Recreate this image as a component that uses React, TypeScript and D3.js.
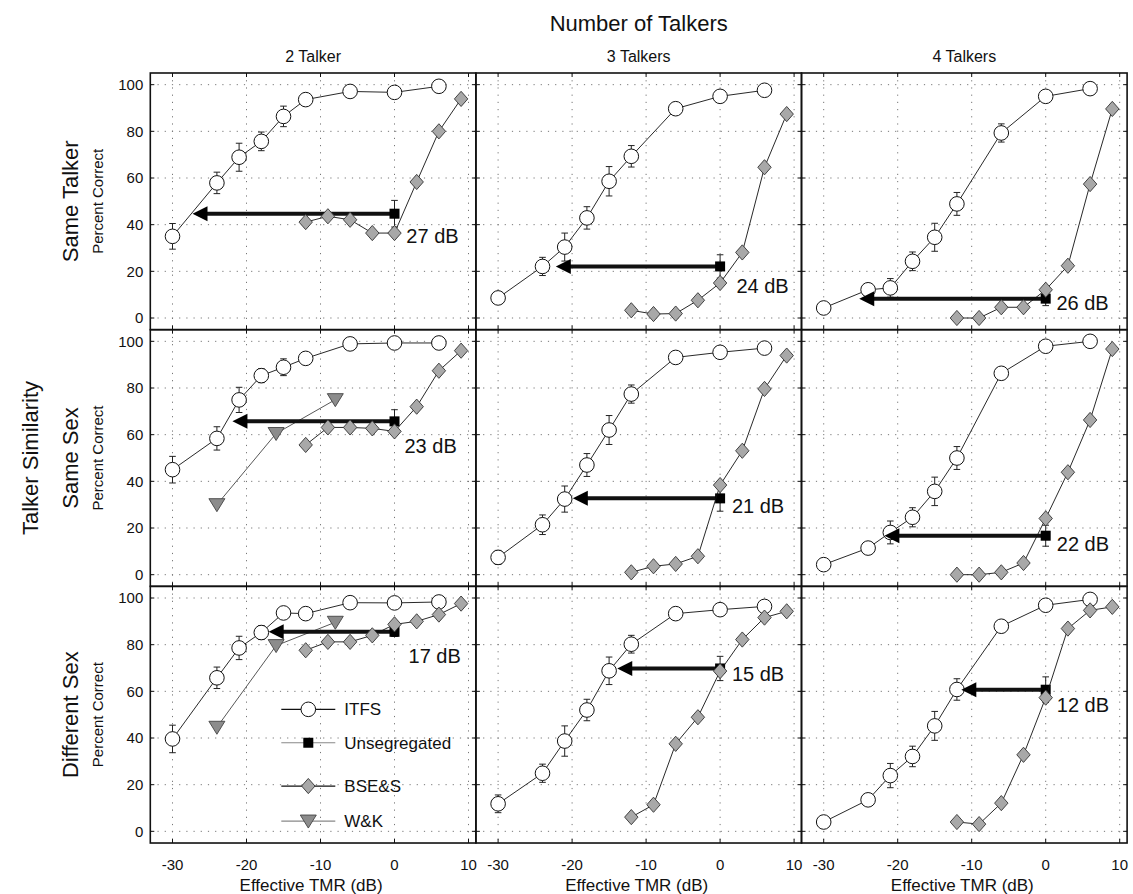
import React from "react";
import * as d3 from "d3";

// ---------- data ----------
const rowLabels = ["Same Talker", "Same Sex", "Different Sex"];
const colLabels = ["2 Talker", "3 Talkers", "4 Talkers"];
const xTicks = [-30, -20, -10, 0, 10];
const yTicks = [0, 20, 40, 60, 80, 100];

const tmrITFS = [-30, -24, -21, -18, -15, -12, -6, 0, 6];
const tmrBSES = [-12, -9, -6, -3, 0, 3, 6, 9];
const tmrWK = [-24, -16, -8];

// panels ordered row by row: [SameTalker 2,3,4], [SameSex 2,3,4], [DiffSex 2,3,4]
const itfsValues = [
  [35, 57.9, 68.9, 75.7, 86.4, 93.6, 97.1, 96.7, 99.3],
  [8.6, 22.1, 30.4, 42.9, 58.6, 69.3, 89.7, 95, 97.6],
  [4.3, 12.1, 12.9, 24.3, 34.6, 48.9, 79.3, 95, 98.3],
  [45, 58.4, 74.9, 85.3, 88.9, 92.7, 98.9, 99.3, 99.3],
  [7.4, 21.4, 32.4, 47, 62, 77.4, 93.1, 95.3, 97.1],
  [4.3, 11.4, 18.1, 24.6, 35.7, 50, 86.3, 97.9, 100],
  [39.6, 65.8, 78.6, 85.2, 93.6, 93.3, 98, 97.9, 98.3],
  [11.8, 24.9, 38.7, 52, 68.8, 80.2, 93.3, 95, 96.4],
  [4, 13.5, 23.9, 32.1, 45.2, 60.8, 87.9, 96.9, 99.4],
];
const itfsErrors = [
  [5.5, 4.6, 6, 4, 4.4, 0, 0, 0, 0],
  [0, 3.9, 6, 4.8, 6.3, 4.6, 0, 0, 0],
  [0, 0, 4, 4, 6, 4.9, 3.9, 0, 0],
  [5.7, 5, 5.4, 3, 3.6, 0, 0, 0, 0],
  [3, 4.2, 5.6, 4.9, 6.2, 3.9, 0, 0, 0],
  [0, 0, 4.9, 4.1, 6.1, 4.9, 0, 0, 0],
  [5.9, 4.6, 5, 3, 0, 0, 0, 0, 0],
  [3.8, 3.9, 6.5, 4.6, 5.9, 3.8, 0, 0, 0],
  [0, 2, 5.2, 4.4, 6.2, 4.6, 0, 0, 0],
];
const bsesValues = [
  [41.1, 43.6, 42.1, 36.4, 36.4, 58.3, 80, 93.9],
  [3.3, 1.7, 1.9, 7.6, 15, 28.1, 64.6, 87.4],
  [0, 0, 4.6, 4.6, 12.1, 22.4, 57.4, 89.6],
  [55.6, 63.1, 63.1, 62.7, 61.4, 72, 87.4, 96],
  [1, 3.6, 4.6, 7.9, 38.4, 53.1, 79.6, 93.9],
  [0, 0, 1, 5, 24.1, 43.9, 66.3, 96.7],
  [77.6, 81.2, 81.2, 84, 88.7, 90, 92.9, 97.6],
  [6.1, 11.4, 37.5, 48.9, 68.7, 82.2, 91.6, 94.3],
  [4, 3.1, 12.1, 32.8, 57.3, 86.9, 94.7, 96.2],
];
// W&K only in the 2-talker column (Same Sex, Different Sex)
const wkValues: (number[] | null)[] = [
  null, null, null,
  [30, 60.5, 75], null, null,
  [44.6, 79.6, 89.6], null, null,
];
const unsegTMR = 0;
const unsegValues = [44.7, 22.1, 8.3, 65.7, 32.7, 16.7, 85.5, 69.8, 60.7];
const unsegErrors = [5.7, 5, 3, 5, 5.5, 4.5, 2, 5.2, 5.5];
const arrowTips = [-27.3, -22.2, -25.2, -21.9, -19.9, -21.8, -17, -13.9, -11.4];
const shiftDB = [27, 24, 26, 23, 21, 22, 17, 15, 12];
const shiftLabelX = [1.6, 2.2, 1.45, 1.35, 1.6, 1.5, 1.9, 1.6, 1.5];
const shiftLabelY = [35, 13.7, 6.4, 55.3, 29.3, 13.1, 75, 67.5, 54];

const legendItems = ["ITFS", "Unsegregated", "BSE&S", "W&K"];

// ---------- layout ----------
const W = 1133;
const H = 894;
const LEFT = 150.3;
const TOP = 73;
const PW = 325.6;
const PH = 256.67;
const FONT = "'Liberation Sans', Arial, Helvetica, sans-serif";

function diamond(x: number, y: number) {
  const a = 6.7, b = 7.6;
  return `M${x},${y - b}L${x + a},${y}L${x},${y + b}L${x - a},${y}Z`;
}
function triDown(x: number, y: number) {
  return `M${x - 8},${y - 6}L${x + 8},${y - 6}L${x},${y + 7}Z`;
}

function Marker({ kind, x, y }: { kind: string; x: number; y: number }) {
  if (kind === "ITFS")
    return <circle cx={x} cy={y} r={7.3} fill="#fff" stroke="#111" strokeWidth={1} />;
  if (kind === "Unsegregated")
    return <rect x={x - 5} y={y - 5} width={10} height={10} fill="#000" />;
  if (kind === "BSE&S")
    return <path d={diamond(x, y)} fill="#a8a8a8" stroke="#333" strokeWidth={0.9} />;
  return <path d={triDown(x, y)} fill="#8c8c8c" stroke="#444" strokeWidth={0.9} />;
}

function ErrBar({ x, y1, y2 }: { x: number; y1: number; y2: number }) {
  return (
    <g stroke="#222" strokeWidth={1}>
      <line x1={x} x2={x} y1={y1} y2={y2} />
      <line x1={x - 3.3} x2={x + 3.3} y1={y1} y2={y1} />
      <line x1={x - 3.3} x2={x + 3.3} y1={y2} y2={y2} />
    </g>
  );
}

function Panel({ r, c }: { r: number; c: number }) {
  const i = r * 3 + c;
  const x0 = LEFT + c * PW;
  const y0 = TOP + r * PH;
  const x = d3.scaleLinear().domain([-33, 11]).range([x0, x0 + PW]);
  const y = d3.scaleLinear().domain([-5, 105]).range([y0 + PH, y0]);
  const line = d3.line<[number, number]>().x((d) => x(d[0])).y((d) => y(d[1]));

  const itfs = tmrITFS.map((t, k) => [t, itfsValues[i][k]] as [number, number]);
  const bses = tmrBSES.map((t, k) => [t, bsesValues[i][k]] as [number, number]);
  const wk = wkValues[i] ? tmrWK.map((t, k) => [t, (wkValues[i] as number[])[k]] as [number, number]) : null;

  const ux = x(unsegTMR);
  const uy = y(unsegValues[i]);
  const tipX = x(arrowTips[i]);
  const headL = 15, headW = 7.5;

  return (
    <g>
      {/* grid */}
      <g stroke="#777" strokeWidth={1} strokeDasharray="1.2,6">
        {xTicks.map((t) => (
          <line key={"gx" + t} x1={x(t)} x2={x(t)} y1={y0} y2={y0 + PH} />
        ))}
        {yTicks.map((t) => (
          <line key={"gy" + t} x1={x0} x2={x0 + PW} y1={y(t)} y2={y(t)} />
        ))}
      </g>
      {/* inward ticks */}
      <g stroke="#111" strokeWidth={1}>
        {xTicks.map((t) => (
          <g key={"tx" + t}>
            <line x1={x(t)} x2={x(t)} y1={y0 + PH} y2={y0 + PH - 4} />
            <line x1={x(t)} x2={x(t)} y1={y0} y2={y0 + 4} />
          </g>
        ))}
        {yTicks.map((t) => (
          <g key={"ty" + t}>
            <line x1={x0} x2={x0 + 4} y1={y(t)} y2={y(t)} />
            <line x1={x0 + PW} x2={x0 + PW - 4} y1={y(t)} y2={y(t)} />
          </g>
        ))}
      </g>
      {/* ITFS */}
      <path d={line(itfs) || ""} fill="none" stroke="#111" strokeWidth={0.9} />
      {itfs.map((d, k) =>
        itfsErrors[i][k] > 0 ? (
          <ErrBar key={"e" + k} x={x(d[0])} y1={y(d[1] + itfsErrors[i][k])} y2={y(d[1] - itfsErrors[i][k])} />
        ) : null
      )}
      {itfs.map((d, k) => (
        <Marker key={"c" + k} kind="ITFS" x={x(d[0])} y={y(d[1])} />
      ))}
      {/* W&K */}
      {wk && <path d={line(wk) || ""} fill="none" stroke="#444" strokeWidth={0.9} />}
      {wk && wk.map((d, k) => <Marker key={"w" + k} kind="W&K" x={x(d[0])} y={y(d[1])} />)}
      {/* Unsegregated + arrow */}
      <ErrBar x={ux} y1={y(unsegValues[i] + unsegErrors[i])} y2={y(unsegValues[i] - unsegErrors[i])} />
      <line x1={ux} x2={tipX + headL - 1} y1={uy} y2={uy} stroke="#111" strokeWidth={4} />
      <path d={`M${tipX},${uy}L${tipX + headL},${uy - headW}L${tipX + headL},${uy + headW}Z`} fill="#000" />
      <Marker kind="Unsegregated" x={ux} y={uy} />
      {/* BSE&S */}
      <path d={line(bses) || ""} fill="none" stroke="#111" strokeWidth={0.9} />
      {bses.map((d, k) => (
        <Marker key={"b" + k} kind="BSE&S" x={x(d[0])} y={y(d[1])} />
      ))}
      {/* shift label */}
      <text x={x(shiftLabelX[i])} y={y(shiftLabelY[i])} dy="0.35em" fontSize={20} fontFamily={FONT} fill="#111">
        {shiftDB[i] + " dB"}
      </text>
      {/* border */}
      <rect x={x0} y={y0} width={PW} height={PH} fill="none" stroke="#111" strokeWidth={1.6} />
      {/* y tick labels */}
      {c === 0 &&
        yTicks.map((t) => (
          <text key={"yl" + t} x={x0 - 7} y={y(t)} dy="0.35em" textAnchor="end" fontSize={15} fontFamily={FONT} fill="#111">
            {t}
          </text>
        ))}
      {c === 0 && (
        <text
          transform={`translate(98,${y0 + PH / 2}) rotate(-90)`}
          textAnchor="middle"
          dy="0.35em"
          fontSize={15}
          fontFamily={FONT}
          fill="#111"
        >
          Percent Correct
        </text>
      )}
      {/* x tick labels */}
      {r === 2 &&
        xTicks.map((t) => (
          <text key={"xl" + t} x={x(t)} y={y0 + PH + 22} dy="0.35em" textAnchor="middle" fontSize={15} fontFamily={FONT} fill="#111">
            {t}
          </text>
        ))}
      {r === 2 && (
        <text x={x0 + PW / 2 - 2} y={y0 + PH + 42.5} dy="0.35em" textAnchor="middle" fontSize={17} fontFamily={FONT} fill="#111">
          Effective TMR (dB)
        </text>
      )}
      {r === 0 && (
        <text x={x0 + PW / 2} y={TOP - 17} dy="0.35em" textAnchor="middle" fontSize={16} fontFamily={FONT} fill="#111">
          {colLabels[c]}
        </text>
      )}
    </g>
  );
}

function Legend() {
  const x0 = LEFT;
  const y0 = TOP + 2 * PH;
  const rowsY = [123, 156.4, 199.7, 234.7];
  const lineColors = ["#111", "#888", "#111", "#888"];
  return (
    <g>
      {legendItems.map((name, k) => (
        <g key={name}>
          <line x1={x0 + 131} x2={x0 + 185} y1={y0 + rowsY[k]} y2={y0 + rowsY[k]} stroke={lineColors[k]} strokeWidth={1.2} />
          <Marker kind={name} x={x0 + 158} y={y0 + rowsY[k]} />
          <text x={x0 + 194} y={y0 + rowsY[k]} dy="0.35em" fontSize={17} fontFamily={FONT} fill="#111">
            {name}
          </text>
        </g>
      ))}
    </g>
  );
}

export default function App() {
  const cells: [number, number][] = [];
  for (let r = 0; r < 3; r++) for (let c = 0; c < 3; c++) cells.push([r, c]);
  return (
    <svg
      width={W}
      height={H}
      viewBox={`0 0 ${W} ${H}`}
      style={{ position: "absolute", left: 0, top: 0, background: "#fff", display: "block" }}
    >
      <rect width={W} height={H} fill="#fff" />
      <text x={LEFT + (3 * PW) / 2} y={23} dy="0.35em" textAnchor="middle" fontSize={22} fontFamily={FONT} fill="#111">
        Number of Talkers
      </text>
      {cells.map(([r, c]) => (
        <Panel key={r + "-" + c} r={r} c={c} />
      ))}
      <Legend />
      {/* row labels */}
      <text transform={`translate(70,${TOP + PH / 2}) rotate(-90)`} textAnchor="middle" dy="0.35em" fontSize={22} fontFamily={FONT} fill="#111">
        {rowLabels[0]}
      </text>
      <text transform={`translate(30,${TOP + 1.5 * PH}) rotate(-90)`} textAnchor="middle" dy="0.35em" fontSize={22} fontFamily={FONT} fill="#111">
        Talker Similarity
      </text>
      <text transform={`translate(70,${TOP + 1.5 * PH}) rotate(-90)`} textAnchor="middle" dy="0.35em" fontSize={22} fontFamily={FONT} fill="#111">
        {rowLabels[1]}
      </text>
      <text transform={`translate(70,${TOP + 2.5 * PH}) rotate(-90)`} textAnchor="middle" dy="0.35em" fontSize={22} fontFamily={FONT} fill="#111">
        {rowLabels[2]}
      </text>
    </svg>
  );
}
